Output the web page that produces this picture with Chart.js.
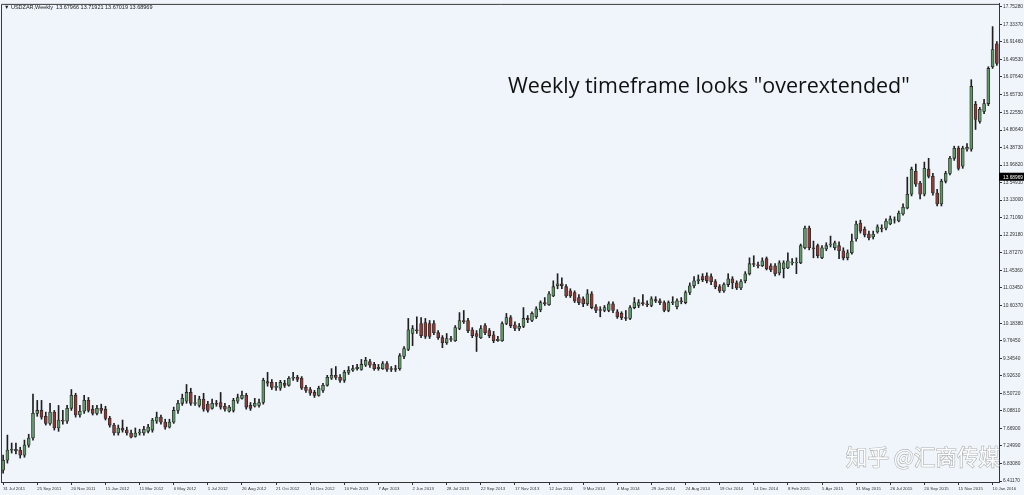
<!DOCTYPE html>
<html>
<head>
<meta charset="utf-8">
<script src="https://cdn.jsdelivr.net/npm/chart.js@4.4.0/dist/chart.umd.min.js"></script>
<style>
html, body { margin: 0; padding: 0; background: #eff5fb; overflow: hidden; }
canvas { display: block; }
</style>
</head>
<body>
<canvas id="myChart" width="1024" height="495"></canvas>
<script>
// USDZAR weekly candles, 31 Jul 2011 .. 17 Jan 2016
var firstWeek = '2011-07-31';
var dateTicks = ['31 Jul 2011', '25 Sep 2011', '20 Nov 2011', '15 Jan 2012', '11 Mar 2012', '6 May 2012',
    '1 Jul 2012', '26 Aug 2012', '21 Oct 2012', '16 Dec 2012', '10 Feb 2013', '7 Apr 2013', '2 Jun 2013',
    '28 Jul 2013', '22 Sep 2013', '17 Nov 2013', '12 Jan 2014', '9 Mar 2014', '4 May 2014', '29 Jun 2014',
    '24 Aug 2014', '19 Oct 2014', '14 Dec 2014', '8 Feb 2015', '5 Apr 2015', '31 May 2015', '26 Jul 2015',
    '20 Sep 2015', '15 Nov 2015', '10 Jan 2016'];

var opens = [
    6.67, 6.91, 7.15, 7.17, 7.15, 7.03, 7.27, 7.44, 8.03, 8.10,
    7.96, 7.79, 8.06, 7.68, 7.87, 7.84, 8.15, 8.46, 7.99, 8.08,
    8.34, 8.13, 8.03, 8.15, 8.13, 7.91, 7.75, 7.56, 7.68, 7.63,
    7.56, 7.48, 7.56, 7.56, 7.60, 7.63, 7.84, 7.94, 7.82, 7.70,
    7.82, 8.10, 8.27, 8.32, 8.53, 8.27, 8.22, 8.37, 8.25, 8.15,
    8.27, 8.29, 8.20, 8.08, 8.10, 8.32, 8.39, 8.46, 8.22, 8.20,
    8.22, 8.29, 8.79, 8.77, 8.65, 8.63, 8.75, 8.70, 8.87, 8.89,
    8.87, 8.65, 8.60, 8.53, 8.46, 8.58, 8.70, 8.87, 8.94, 8.89,
    8.82, 9.01, 9.06, 9.10, 9.08, 9.18, 9.27, 9.20, 9.10, 9.10,
    9.22, 9.08, 9.10, 9.10, 9.39, 9.56, 9.94, 10.03, 10.18, 10.20,
    10.18, 10.18, 9.96, 9.84, 9.72, 9.82, 9.77, 10.06, 10.25, 10.25,
    10.03, 9.94, 9.84, 10.13, 10.01, 9.91, 9.77, 9.77, 10.18, 10.32,
    10.15, 10.06, 10.11, 10.30, 10.25, 10.34, 10.51, 10.68, 10.63, 10.84,
    11.08, 11.13, 11.06, 10.96, 10.92, 10.80, 10.77, 10.65, 10.89, 10.58,
    10.51, 10.49, 10.49, 10.65, 10.46, 10.42, 10.32, 10.30, 10.56, 10.61,
    10.68, 10.65, 10.61, 10.75, 10.72, 10.68, 10.49, 10.68, 10.58, 10.72,
    10.68, 10.92, 11.08, 11.20, 11.30, 11.32, 11.30, 11.18, 11.06, 10.96,
    11.11, 11.25, 11.15, 11.03, 11.20, 11.37, 11.61, 11.58, 11.56, 11.73,
    11.56, 11.56, 11.39, 11.49, 11.51, 11.63, 11.63, 11.63, 11.99, 12.46,
    11.99, 12.04, 11.75, 11.96, 12.06, 11.99, 12.04, 11.92, 11.75, 11.87,
    12.20, 12.58, 12.44, 12.32, 12.25, 12.37, 12.46, 12.46, 12.56, 12.65,
    12.63, 12.80, 12.94, 13.27, 13.82, 13.54, 13.27, 13.87, 13.70, 13.30,
    13.04, 13.58, 13.77, 14.13, 14.37, 13.94, 14.35, 14.35, 15.42, 15.01,
    15.25, 15.44, 16.32, 16.87];

var highs = [
    7.03, 7.51, 7.32, 7.32, 7.22, 7.39, 7.53, 8.49, 8.34, 8.34,
    8.06, 8.27, 8.10, 8.22, 8.10, 8.22, 8.60, 8.51, 8.22, 8.46,
    8.41, 8.22, 8.22, 8.25, 8.20, 7.96, 7.79, 7.75, 7.87, 7.70,
    7.63, 7.68, 7.65, 7.72, 7.77, 7.91, 8.06, 7.99, 7.89, 7.89,
    8.18, 8.34, 8.49, 8.72, 8.63, 8.46, 8.44, 8.51, 8.32, 8.37,
    8.34, 8.53, 8.27, 8.22, 8.39, 8.49, 8.56, 8.51, 8.29, 8.39,
    8.37, 8.87, 9.01, 8.84, 8.77, 8.82, 8.82, 8.91, 9.01, 8.94,
    8.91, 8.70, 8.65, 8.58, 8.68, 8.75, 8.94, 9.10, 9.15, 8.96,
    9.06, 9.15, 9.18, 9.20, 9.32, 9.37, 9.32, 9.25, 9.20, 9.27,
    9.27, 9.15, 9.18, 9.46, 9.63, 10.30, 10.13, 10.34, 10.32, 10.30,
    10.25, 10.25, 10.01, 9.89, 9.94, 9.87, 10.13, 10.44, 10.49, 10.30,
    10.08, 10.01, 10.13, 10.18, 10.06, 9.99, 9.87, 10.22, 10.42, 10.37,
    10.22, 10.18, 10.56, 10.37, 10.46, 10.58, 10.72, 10.80, 10.94, 11.20,
    11.37, 11.27, 11.11, 11.01, 10.96, 10.87, 10.82, 10.99, 10.94, 10.63,
    10.58, 10.61, 10.70, 10.70, 10.51, 10.46, 10.49, 10.61, 10.80, 10.75,
    10.87, 10.72, 10.82, 10.82, 10.77, 10.72, 10.72, 10.82, 10.77, 10.80,
    10.96, 11.15, 11.30, 11.34, 11.37, 11.39, 11.37, 11.23, 11.11, 11.15,
    11.37, 11.30, 11.20, 11.23, 11.42, 11.75, 11.80, 11.65, 11.75, 11.77,
    11.61, 11.61, 11.68, 11.68, 11.87, 11.73, 11.75, 12.08, 12.51, 12.51,
    12.15, 12.08, 12.04, 12.11, 12.27, 12.15, 12.13, 11.99, 11.94, 12.32,
    12.63, 12.65, 12.49, 12.39, 12.39, 12.54, 12.54, 12.68, 12.75, 12.73,
    12.87, 13.04, 13.68, 13.92, 13.99, 13.58, 14.04, 14.13, 13.77, 13.39,
    13.63, 13.82, 14.18, 14.42, 14.42, 14.42, 14.48, 16.01, 15.49, 15.35,
    15.54, 16.32, 17.28, 16.92];

var lows = [
    6.60, 6.84, 7.08, 7.06, 6.96, 6.98, 7.22, 7.39, 7.96, 7.89,
    7.75, 7.75, 7.63, 7.60, 7.77, 7.79, 8.10, 7.94, 7.94, 8.03,
    8.06, 7.99, 7.99, 8.03, 7.87, 7.70, 7.51, 7.51, 7.58, 7.51,
    7.44, 7.46, 7.51, 7.51, 7.56, 7.58, 7.79, 7.77, 7.65, 7.68,
    7.79, 8.03, 8.22, 8.27, 8.22, 8.22, 8.18, 8.08, 8.06, 8.13,
    8.20, 8.13, 8.08, 8.06, 8.06, 8.27, 8.37, 8.13, 8.10, 8.18,
    8.18, 8.25, 8.68, 8.60, 8.58, 8.58, 8.65, 8.68, 8.82, 8.79,
    8.60, 8.53, 8.46, 8.41, 8.44, 8.53, 8.68, 8.84, 8.84, 8.77,
    8.77, 8.96, 9.03, 9.06, 9.06, 9.15, 9.13, 9.06, 9.06, 9.08,
    9.03, 9.03, 9.03, 9.06, 9.34, 9.53, 9.65, 9.94, 9.84, 9.82,
    9.82, 9.91, 9.80, 9.60, 9.68, 9.75, 9.75, 10.03, 10.18, 9.96,
    9.84, 9.51, 9.82, 9.91, 9.84, 9.72, 9.75, 9.75, 10.15, 10.08,
    10.01, 10.01, 10.08, 10.20, 10.22, 10.30, 10.46, 10.61, 10.61, 10.82,
    11.01, 11.01, 10.80, 10.80, 10.68, 10.63, 10.58, 10.61, 10.53, 10.44,
    10.34, 10.46, 10.46, 10.44, 10.30, 10.27, 10.25, 10.27, 10.53, 10.56,
    10.61, 10.58, 10.58, 10.68, 10.63, 10.46, 10.46, 10.63, 10.53, 10.65,
    10.65, 10.87, 11.03, 11.13, 11.18, 11.15, 11.11, 11.01, 10.92, 10.92,
    11.06, 11.01, 10.99, 10.99, 11.15, 11.34, 11.54, 11.51, 11.54, 11.46,
    11.42, 11.32, 11.34, 11.27, 11.49, 11.58, 11.37, 11.61, 11.96, 11.94,
    11.75, 11.75, 11.73, 11.92, 12.01, 11.94, 11.73, 11.70, 11.70, 11.84,
    12.15, 12.34, 12.25, 12.18, 12.20, 12.34, 12.37, 12.42, 12.54, 12.58,
    12.61, 12.77, 12.92, 13.23, 13.46, 13.16, 13.23, 13.66, 13.25, 12.99,
    12.99, 13.54, 13.73, 14.08, 13.85, 13.89, 14.30, 14.30, 14.82, 14.97,
    15.20, 15.39, 16.28, 16.35];

var closes = [
    6.91, 7.15, 7.17, 7.13, 7.03, 7.27, 7.44, 8.03, 8.10, 7.94,
    7.79, 8.06, 7.68, 7.87, 7.84, 8.15, 8.46, 7.99, 8.08, 8.34,
    8.10, 8.03, 8.15, 8.10, 7.91, 7.75, 7.56, 7.68, 7.63, 7.56,
    7.46, 7.56, 7.58, 7.65, 7.70, 7.87, 7.94, 7.82, 7.70, 7.82,
    8.10, 8.27, 8.39, 8.53, 8.27, 8.29, 8.37, 8.13, 8.10, 8.27,
    8.25, 8.18, 8.13, 8.18, 8.34, 8.41, 8.46, 8.18, 8.15, 8.27,
    8.29, 8.82, 8.75, 8.65, 8.68, 8.77, 8.70, 8.87, 8.89, 8.84,
    8.63, 8.58, 8.51, 8.46, 8.63, 8.70, 8.89, 8.94, 8.89, 8.82,
    9.01, 9.06, 9.10, 9.13, 9.20, 9.30, 9.18, 9.10, 9.13, 9.22,
    9.08, 9.10, 9.08, 9.41, 9.58, 10.03, 10.06, 10.01, 9.89, 9.87,
    9.87, 9.96, 9.84, 9.72, 9.82, 9.80, 10.08, 10.25, 10.22, 10.01,
    9.89, 9.87, 10.06, 9.96, 9.89, 9.77, 9.80, 10.18, 10.32, 10.13,
    10.06, 10.11, 10.30, 10.27, 10.42, 10.53, 10.68, 10.65, 10.89, 11.06,
    11.13, 11.08, 10.84, 10.84, 10.72, 10.68, 10.65, 10.89, 10.56, 10.49,
    10.49, 10.56, 10.65, 10.49, 10.34, 10.32, 10.30, 10.56, 10.68, 10.68,
    10.65, 10.63, 10.77, 10.72, 10.68, 10.49, 10.68, 10.70, 10.72, 10.70,
    10.92, 11.08, 11.20, 11.23, 11.23, 11.20, 11.18, 11.06, 10.96, 11.11,
    11.25, 11.15, 11.03, 11.18, 11.37, 11.61, 11.59, 11.56, 11.68, 11.49,
    11.46, 11.37, 11.63, 11.63, 11.68, 11.65, 11.64, 12.04, 12.46, 11.99,
    11.96, 11.80, 11.99, 12.04, 12.08, 12.11, 11.92, 11.75, 11.87, 12.15,
    12.56, 12.39, 12.30, 12.23, 12.32, 12.49, 12.44, 12.63, 12.68, 12.66,
    12.82, 12.96, 13.27, 13.87, 13.51, 13.27, 13.89, 13.70, 13.30, 13.04,
    13.58, 13.77, 14.13, 14.37, 13.89, 14.37, 14.39, 15.85, 15.06, 15.30,
    15.44, 16.28, 16.73, 16.40];

var yTickLabels = ['6.41170', '6.83080', '7.24990', '7.66900', '8.08810', '8.50720', '8.92630',
    '9.34540', '9.76450', '10.18380', '10.60370', '11.03450', '11.45360', '11.87270', '12.29180',
    '12.71090', '13.13000', '13.54910', '13.96820', '14.38730', '14.80640', '15.22550', '15.65730',
    '16.07640', '16.49530', '16.91460', '17.33370', '17.75280'];

var lastPrice = '13.68969';
var header = '\u25BC USDZAR,Weekly  13.67966 13.71921 13.67019 13.68969';
var note = 'Weekly timeframe looks "overextended"';
var watermark = '知乎 @汇商传媒';

var weeks = [];
var d0 = new Date(firstWeek + 'T00:00:00Z');
for (var i = 0; i < closes.length; i++) {
    weeks.push(new Date(d0.getTime() + i * 7 * 86400000).toISOString().slice(0, 10));
}

var bodyColors = opens.map(function (o, i) { return closes[i] >= o ? '#5f9766' : '#8f3b35'; });

var decor = {
    id: 'decor',
    beforeDraw: function (chart) {
        var ctx = chart.ctx;
        ctx.save();
        ctx.fillStyle = '#eff5fb';
        ctx.fillRect(0, 0, chart.width, chart.height);
        ctx.restore();
    },
    afterDraw: function (chart) {
        var ctx = chart.ctx, a = chart.chartArea, ys = chart.scales.y;
        ctx.save();
        // frame top/left
        ctx.strokeStyle = '#3a3a3a';
        ctx.lineWidth = 1;
        ctx.beginPath();
        ctx.moveTo(a.left + 0.5, a.bottom);
        ctx.lineTo(a.left + 0.5, a.top + 0.5);
        ctx.lineTo(a.right, a.top + 0.5);
        ctx.stroke();

        // header
        ctx.fillStyle = '#222';
        ctx.font = '5.5px "Liberation Sans", "DejaVu Sans"';
        ctx.textBaseline = 'middle';
        ctx.textAlign = 'left';
        ctx.fillText(header, 4, 7);

        // note
        ctx.font = '21px "Open Sans"';
        var w = ctx.measureText(note).width;
        var fs = 21 * 402 / w;
        ctx.font = fs.toFixed(2) + 'px "Open Sans"';
        ctx.fillStyle = '#111';
        ctx.fillText(note, 508, 87);

        // current price box
        var py = ys.getPixelForValue(parseFloat(lastPrice));
        ctx.fillStyle = '#000';
        ctx.fillRect(a.right, py - 4, chart.width - a.right, 8);
        ctx.fillStyle = '#fff';
        ctx.font = '4.8px "Liberation Sans"';
        ctx.fillText(lastPrice, a.right + 4, py + 0.5);

        // watermark
        ctx.font = '26px "Noto Sans CJK SC"';
        var ww = ctx.measureText(watermark).width;
        ctx.font = (26 * 154 / ww).toFixed(2) + 'px "Noto Sans CJK SC"';
        ctx.lineWidth = 1.2;
        ctx.strokeStyle = 'rgba(130,130,130,0.6)';
        ctx.fillStyle = 'rgba(255,255,255,0.95)';
        ctx.strokeText(watermark, 846, 457);
        ctx.fillText(watermark, 846, 457);
        ctx.restore();
    }
};

var ctx = document.getElementById('myChart').getContext('2d');
var myChart = new Chart(ctx, {
    type: 'bar',
    data: {
        labels: weeks,
        datasets: [{
            label: 'wick',
            data: lows.map(function (l, i) { return [l, highs[i]]; }),
            backgroundColor: '#1f1f1f',
            barThickness: 1,
            grouped: false,
            order: 2
        }, {
            label: 'body',
            data: opens.map(function (o, i) { return [o, closes[i]]; }),
            backgroundColor: bodyColors,
            borderColor: '#2a2a2a',
            borderWidth: 0.8,
            borderSkipped: false,
            barThickness: 3,
            grouped: false,
            order: 1
        }]
    },
    options: {
        responsive: false,
        animation: false,
        devicePixelRatio: 1,
        layout: { padding: { top: 2, left: 1, right: 0, bottom: 0 } },
        plugins: { legend: { display: false }, tooltip: { enabled: false } },
        scales: {
            x: {
                type: 'category',
                offset: true,
                grid: { display: true, offset: false, drawOnChartArea: false, drawTicks: true, tickLength: 3, color: '#333' },
                border: { display: true, color: '#333' },
                ticks: {
                    autoSkip: false, maxRotation: 0, minRotation: 0, align: 'start', padding: 1,
                    color: '#333', font: { size: 4.3, family: 'Liberation Sans' },
                    callback: function (value) { return dateTicks[value / 8]; }
                },
                afterBuildTicks: function (s) { s.ticks = s.ticks.filter(function (t) { return t.value % 8 === 0; }); },
                afterFit: function (s) { s.height = 13; }
            },
            y: {
                position: 'right',
                min: 6.388,
                max: 17.824,
                grid: { display: true, drawOnChartArea: false, drawTicks: true, tickLength: 3, color: '#333' },
                border: { display: true, color: '#333' },
                ticks: {
                    autoSkip: false, padding: 1, color: '#333', font: { size: 4.8, family: 'Liberation Sans' },
                    callback: function (v, i) { return yTickLabels[i]; }
                },
                afterBuildTicks: function (s) { s.ticks = yTickLabels.map(function (t) { return { value: parseFloat(t) }; }); },
                afterFit: function (s) { s.width = 25; }
            }
        }
    },
    plugins: [decor]
});
</script>
</body>
</html>
